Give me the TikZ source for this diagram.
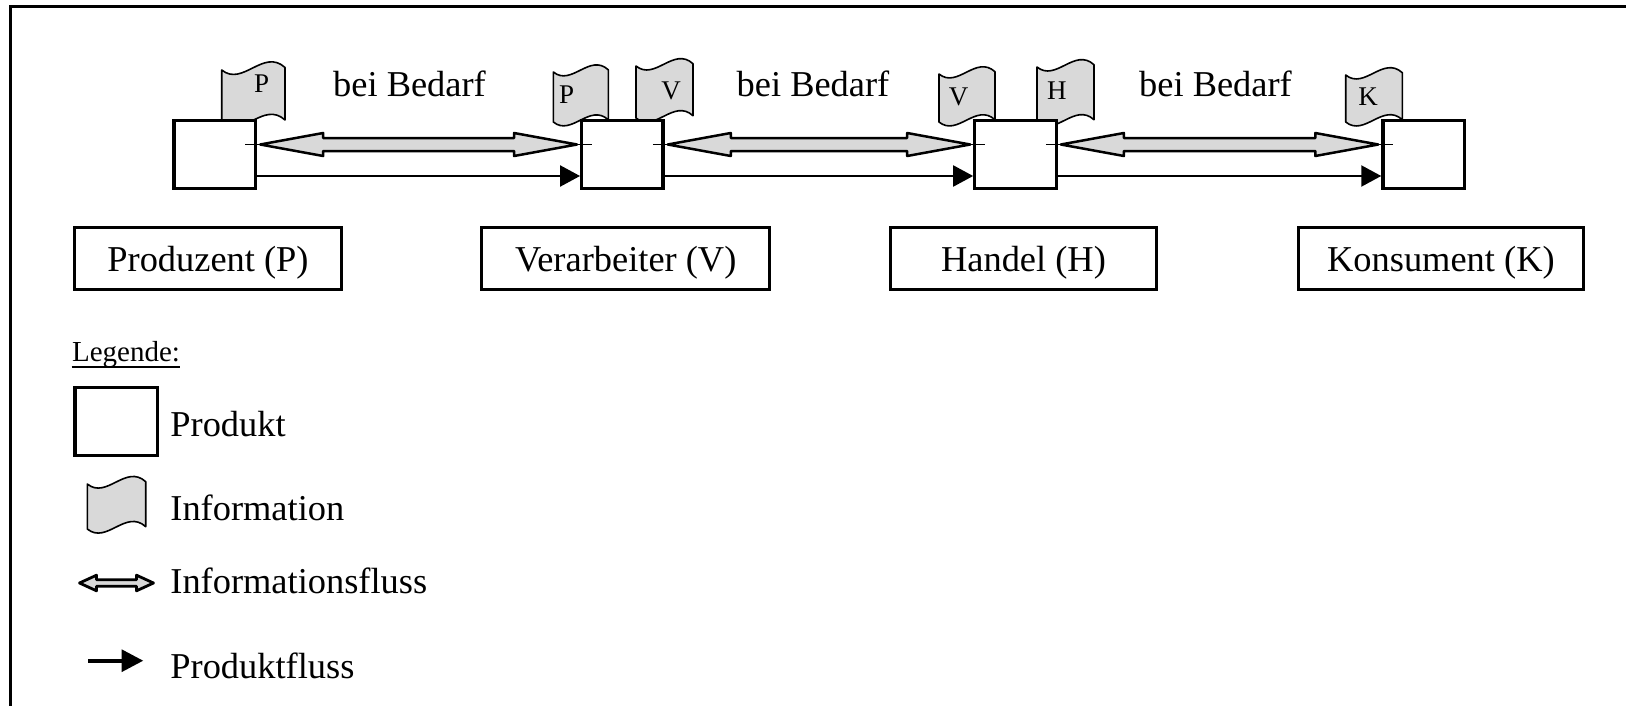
\documentclass[tikz,border=0pt]{standalone}
\usepackage{fontspec}
\setmainfont{Liberation Serif}
\usetikzlibrary{calc,arrows.meta}
\definecolor{infogray}{RGB}{217,217,217}
\newcommand\mainfs{\fontsize{18.2pt}{21pt}\selectfont}
\newcommand\letfs{\fontsize{13.5pt}{15pt}\selectfont}
\newcommand\legfs{\fontsize{14.5pt}{17pt}\selectfont}
\tikzset{
  pbox/.style={draw, line width=1.65pt, fill=white, minimum width=40.7pt, minimum height=33.9pt, inner sep=0pt},
  lbox/.style={draw, line width=1.5pt, fill=white, minimum height=30.75pt, inner sep=0pt, text height=17pt, text depth=3.6pt, font=\mainfs},
  docstyle/.style={draw=black, line width=0.8pt, fill=infogray, line join=round},
  flowstyle/.style={draw=black, line width=1.25pt, fill=infogray, line join=round},
  thinline/.style={line width=0.5pt},
  prodflow/.style={line width=1.1pt, -{Triangle[length=10pt,width=10.5pt]}},
  legprod/.style={line width=2pt, -{Triangle[length=10.8pt,width=10.8pt]}},
  txt/.style={inner sep=0pt, font=\mainfs, anchor=base},
  legtxt/.style={inner sep=0pt, font=\mainfs, anchor=base west},
  letter/.style={inner sep=0pt, font=\letfs},
}
% information document shape: x y w h (y grows downward)
\newcommand\infodoc[4]{%
  \filldraw[docstyle] (#1,#2) .. controls ({#1+0.33*#3},{#2+0.27*#3}) and ({#1+0.66*#3},{#2-0.35*#3}) .. ({#1+#3},{#2-0.04*#3})
    -- ({#1+#3},{#2+#4-0.04*#3}) .. controls ({#1+0.66*#3},{#2+#4-0.35*#3}) and ({#1+0.33*#3},{#2+#4+0.27*#3}) .. (#1,{#2+#4}) -- cycle;}
% double information-flow arrow: [opts] start end headlength headhalf shafthalf
\newcommand\dblflow[6][]{%
  \filldraw[flowstyle,#1] let \p1=(#2), \p2=(#3) in
    (\x1,\y1) -- (\x1+#4,\y1+#5) -- (\x1+#4,\y1+#6) -- (\x2-#4,\y1+#6) -- (\x2-#4,\y1+#5) -- (\x2,\y1)
    -- (\x2-#4,\y1-#5) -- (\x2-#4,\y1-#6) -- (\x1+#4,\y1-#6) -- (\x1+#4,\y1-#5) -- cycle;}
\begin{document}
\begin{tikzpicture}[x=0.5pt,y=-0.5pt]
\useasboundingbox (0,0) rectangle (1626,706);
% frame
\draw[line width=1.65pt] (10.7,720) -- (10.7,6.7) -- (1640,6.7);

% information documents (behind the boxes)
\infodoc{221.7}{70}{63.3}{52.5}
\infodoc{553.3}{72}{55}{50}
\infodoc{636}{66}{57}{52}
\infodoc{939}{74}{56}{48}
\infodoc{1037}{67}{57}{55}
\infodoc{1345.7}{75}{56.6}{47}
\node[letter] (dP1) at (261.7,83.3) {P};
\node[letter] (dP2) at (566.7,95) {P};
\node[letter] (dV1) at (671,91) {V};
\node[letter] (dV2) at (958.6,97) {V};
\node[letter] (dH) at (1056.8,91) {H};
\node[letter] (dK) at (1368,96.7) {K};

% product boxes
\node[pbox] (b1) at (214.8,154.5) {};
\node[pbox] (b2) at (622.4,154.5) {};
\node[pbox] (b3) at (1015.5,154.5) {};
\node[pbox] (b4) at (1423.6,154.5) {};

% bei Bedarf
\node[txt] (bb1) at (409.5,96.5) {bei Bedarf};
\node[txt] (bb2) at (813,96.5) {bei Bedarf};
\node[txt] (bb3) at (1215.5,96.5) {bei Bedarf};

% thin centre lines of information flows
\draw[thinline] ($(b1.east)+(-12,-10)$) -- ($(b2.west)+(12,-10)$);
\draw[thinline] ($(b2.east)+(-12,-10)$) -- ($(b3.west)+(12,-10)$);
\draw[thinline] ($(b3.east)+(-12,-10)$) -- ($(b4.west)+(12,-10)$);
% information flows
\dblflow{$(b1.east)+(3,-10)$}{$(b2.west)+(-3,-10)$}{31.5pt}{5.75pt}{3.25pt}
\dblflow{$(b2.east)+(3,-10)$}{$(b3.west)+(-3,-10)$}{31.5pt}{5.75pt}{3.25pt}
\dblflow{$(b3.east)+(3,-10)$}{$(b4.west)+(-3,-10)$}{31.5pt}{5.75pt}{3.25pt}
% product flows
\draw[prodflow] ($(b1.east)+(0,21.5)$) -- ($(b2.west)+(0,21.5)$);
\draw[prodflow] ($(b2.east)+(0,21.5)$) -- ($(b3.west)+(0,21.5)$);
\draw[prodflow] ($(b3.east)+(0,21.5)$) -- ($(b4.west)+(0,21.5)$);

% actor labels
\node[lbox, minimum width=133.2pt] (l1) at (208,258.25) {Produzent (P)};
\node[lbox, minimum width=143.8pt] (l2) at (625.7,258.25) {Verarbeiter (V)};
\node[lbox, minimum width=133pt] (l3) at (1023.5,258.25) {Handel (H)};
\node[lbox, minimum width=142.65pt] (l4) at (1440.9,258.25) {Konsument (K)};

% legend
\node[inner sep=0pt, font=\legfs, anchor=base west] (leg) at (71.7,361.7) {Legende:};
\draw[line width=0.9pt] ($(leg.base west)+(0,5)$) -- ($(leg.base east)+(0,5)$);
\node[pbox, minimum width=41.2pt, minimum height=34.15pt] (lb) at (116.2,421.5) {};
\node[legtxt] (t1) at (170,436.7) {Produkt};
\infodoc{87.3}{484}{58.4}{45}
\node[legtxt] (t2) at (170,520) {Information};
\coordinate (lda1) at (79.5,583);
\coordinate (lda2) at (153.5,583);
\dblflow[line width=1.4pt]{lda1}{lda2}{8.5pt}{3.9pt}{1.6pt}
\node[legtxt] (t3) at (170,593.3) {Informationsfluss};
\coordinate (lpa1) at (88,660.7);
\coordinate (lpa2) at (143.3,660.7);
\draw[legprod] (lpa1) -- (lpa2);
\node[legtxt] (t4) at (170,678.5) {Produktfluss};
\end{tikzpicture}
\end{document}
